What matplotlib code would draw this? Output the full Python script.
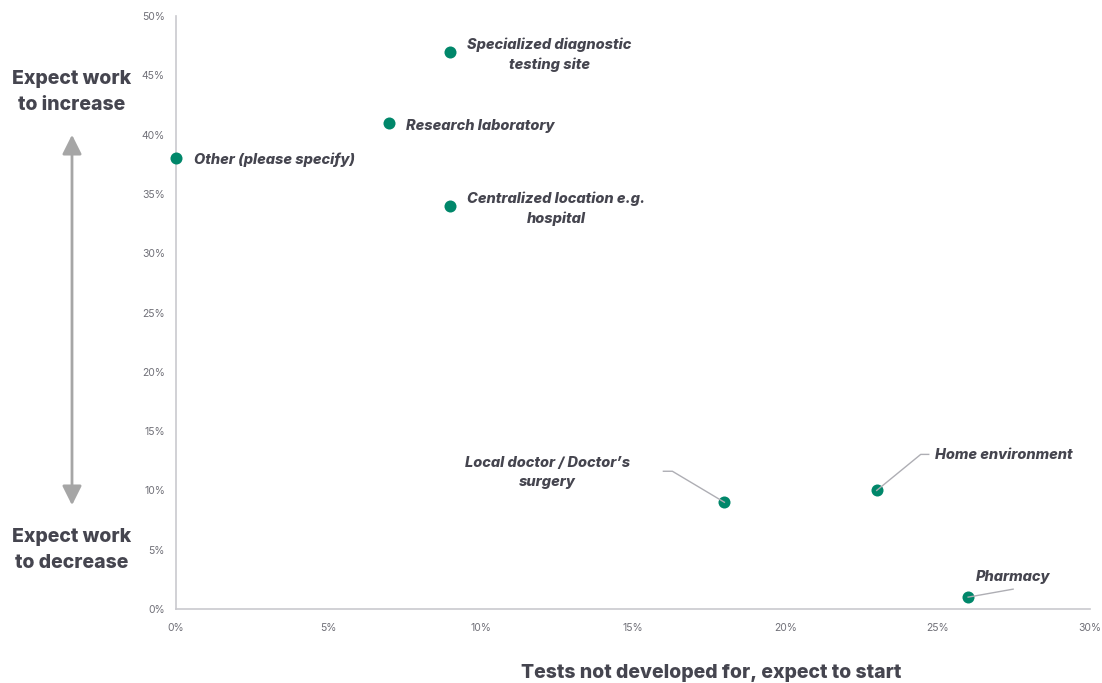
import matplotlib
matplotlib.use("Agg")
import matplotlib.pyplot as plt
from matplotlib.lines import Line2D
from matplotlib.patches import FancyArrowPatch
from matplotlib.ticker import FuncFormatter, MultipleLocator

plt.rcParams['font.family'] = ['Inter', 'DejaVu Sans']

# Share of respondents (%)
categories = [
    "Specialized diagnostic\ntesting site",
    "Research laboratory",
    "Other (please specify)",
    "Centralized location e.g.\nhospital",
    "Local doctor / Doctor\u2019s\nsurgery",
    "Home environment",
    "Pharmacy",
]
expect_to_start = [9, 7, 0, 9, 18, 23, 26]      # x: tests not developed for, expect to start
expect_increase = [47, 41, 38, 34, 9, 10, 1]     # y: expect work to increase

# label placement: (dx, dy) in pixels from the point, alignment, leader vertices
label_style = [
    ((99, -3), 'center', None),
    ((17, -3), 'left', None),
    ((18, -1), 'left', None),
    ((106, -3), 'center', None),
    ((-177, 30), 'center', [(-52, 31), (-61, 31)]),
    ((58, 35), 'left', [(44, 36), (52, 36)]),
    ((45, 20), 'center', [(45, 8)]),
]

DOT = '#00876a'
TEXT = '#45454f'
TICK = '#707078'
SPINE = '#c9c9ce'

fig = plt.figure(figsize=(11.02, 6.83), dpi=100)
W, H = 1102, 683
ax = fig.add_axes([176 / W, 1 - 609 / H, (1090 - 176) / W, (609 - 16) / H])

ax.set_xlim(0, 30)
ax.set_ylim(0, 50)
ax.xaxis.set_major_locator(MultipleLocator(5))
ax.yaxis.set_major_locator(MultipleLocator(5))
pct = FuncFormatter(lambda v, _: f"{v:.0f}%")
ax.xaxis.set_major_formatter(pct)
ax.yaxis.set_major_formatter(pct)
ax.tick_params(length=0, labelsize=7.5, labelcolor=TICK)
ax.tick_params(axis='x', pad=10)
ax.tick_params(axis='y', pad=8)
for s in ('top', 'right'):
    ax.spines[s].set_visible(False)
for s in ('left', 'bottom'):
    ax.spines[s].set_color(SPINE)
    ax.spines[s].set_linewidth(1.2)

ax.scatter(expect_to_start, expect_increase, s=75, color=DOT, zorder=4,
           clip_on=False, linewidths=0)

fig.canvas.draw()
for name, x, y, (off, ha, leader) in zip(categories, expect_to_start,
                                          expect_increase, label_style):
    ax.annotate(name, (x, y), xytext=off, textcoords='offset pixels',
                ha=ha, va='center', fontsize=10.5, fontweight=800,
                fontstyle='italic', color=TEXT, linespacing=1.5,
                multialignment='center')
    if leader:
        px, py = ax.transData.transform((x, y))
        xs = [px] + [px + dx for dx, dy in leader]
        ys = [py] + [py + dy for dx, dy in leader]
        fig.add_artist(Line2D(xs, ys, transform=None, color='#aeaeb4',
                              lw=1.0, zorder=3))

# side annotation with a double-headed arrow
for label, ypix in (("Expect work\nto increase", 92),
                    ("Expect work\nto decrease", 550)):
    fig.text(72 / W, 1 - ypix / H, label, ha='center', va='center',
             fontsize=14, fontweight=800, color=TEXT, linespacing=1.5)
fig.add_artist(FancyArrowPatch(
    (72 / W, 1 - 132 / H), (72 / W, 1 - 508 / H), transform=fig.transFigure,
    arrowstyle='<|-|>,head_length=9,head_width=4.5', color='#a6a6a6',
    lw=2.0, mutation_scale=1.3))

fig.text(711 / W, 1 - 673 / H, "Tests not developed for, expect to start",
         ha='center', va='center', fontsize=14, fontweight=800, color=TEXT)

fig.savefig('out.png', dpi=100)
